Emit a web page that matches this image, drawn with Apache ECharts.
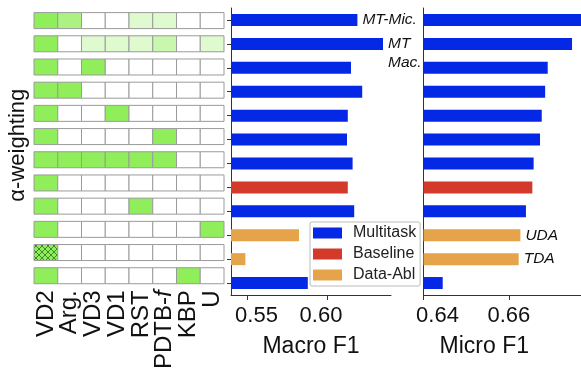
<!DOCTYPE html>
<html><head><meta charset="utf-8">
<script src="https://cdn.jsdelivr.net/npm/echarts@6/dist/echarts.min.js"></script>
<style>html,body{margin:0;padding:0;background:#fff}#c{width:581px;height:372px}</style>
</head><body><div id="c"></div>
<script>
// ---- data ----
const tasks = ['VD2', 'Arg.', 'VD3', 'VD1', 'RST', 'PDTB-f', 'KBP', 'U'];
const configs = ['r1','r2','r3','r4','r5','r6','r7','r8','r9','r10','r11','r12'];
const weights = [
  [1, 0.75, 0, 0, 0.3, 0.3, 0, 0],
  [1, 0, 0.3, 0.3, 0.3, 0.5, 0, 0.3],
  [1, 0, 1, 0, 0, 0, 0, 0],
  [1, 1, 0, 0, 0, 0, 0, 0],
  [1, 0, 0, 1, 0, 0, 0, 0],
  [1, 0, 0, 0, 0, 1, 0, 0],
  [1, 1, 1, 1, 1, 1, 0, 0],
  [1, 0, 0, 0, 0, 0, 0, 0],
  [1, 0, 0, 0, 1, 0, 0, 0],
  [1, 0, 0, 0, 0, 0, 0, 1],
  [1, 0, 0, 0, 0, 0, 0, 0],
  [1, 0, 0, 0, 0, 0, 1, 0]
];
const hatchedCells = [[10, 0]];
const groups = ['Multitask', 'Baseline', 'Data-Abl'];
const configGroup = ['Multitask','Multitask','Multitask','Multitask','Multitask','Multitask','Multitask','Baseline','Multitask','Data-Abl','Data-Abl','Multitask'];
const macroF1 = [0.619, 0.635, 0.615, 0.622, 0.613, 0.6125, 0.616, 0.613, 0.617, 0.5825, 0.549, 0.588];
const microF1 = [0.678, 0.6748, 0.6691, 0.6685, 0.6677, 0.6673, 0.6658, 0.6655, 0.664, 0.6627, 0.6623, 0.6445];
const macroNotes = ['MT-Mic.', 'MT\nMac.', '', '', '', '', '', '', '', '', '', ''];
const microNotes = ['', '', '', '', '', '', '', '', '', 'UDA', 'TDA', ''];
const macroTicks = [0.55, 0.60];
const microTicks = [0.64, 0.66];

// ---- styles ----
const FONT = "'Liberation Sans', Arial, sans-serif";
const groupColor = { 'Multitask': '#0527e6', 'Baseline': '#d33a2a', 'Data-Abl': '#e6a44a' };
const GREEN = [144, 238, 90];
function mix(w) {
  const c = GREEN.map(v => Math.round(255 - w * (255 - v)));
  return 'rgb(' + c.join(',') + ')';
}
function hatchCanvas() {
  const c = document.createElement('canvas'); c.width = 6; c.height = 6;
  const g = c.getContext('2d');
  g.fillStyle = mix(1); g.fillRect(0, 0, 6, 6);
  g.strokeStyle = '#3c8a2a'; g.lineWidth = 1;
  g.beginPath(); g.moveTo(0, 0); g.lineTo(6, 6); g.moveTo(6, 0); g.lineTo(0, 6); g.stroke();
  return c;
}
const hatchImg = hatchCanvas();

const cellData = [];
weights.forEach((row, r) => row.forEach((w, c) => {
  const h = hatchedCells.some(p => p[0] === r && p[1] === c) ? 1 : 0;
  cellData.push([c, r, w, h]);
}));

function barSeries(vals, notes, axis, g) {
  return {
    type: 'bar', name: g, xAxisIndex: axis, yAxisIndex: axis,
    barWidth: 12, barGap: '-100%',
    itemStyle: { color: groupColor[g] },
    data: vals.map((v, i) => {
      if (configGroup[i] !== g) return '-';
      const item = { value: v };
      if (notes[i]) {
        const two = notes[i].indexOf('\n') >= 0;
        item.label = {
          show: true, position: 'right', distance: 5, formatter: notes[i],
          fontStyle: 'italic', fontSize: 15.5, fontFamily: FONT, color: '#111',
          align: 'left', lineHeight: 18.5, offset: two ? [0, 9.5] : [0, 0]
        };
      }
      return item;
    })
  };
}

const series = [{
  type: 'custom', xAxisIndex: 0, yAxisIndex: 0, data: cellData, silent: true,
  renderItem: function (params, api) {
    const p = api.coord([api.value(0), api.value(1)]);
    const s = api.size([1, 1]);
    const w = api.value(2), h = api.value(3);
    return {
      type: 'rect',
      shape: { x: p[0] - s[0] / 2, y: p[1] - 8, width: s[0], height: 16 },
      style: { fill: h ? { image: hatchImg, repeat: 'repeat' } : mix(w), stroke: '#9a9a9a', lineWidth: 1 }
    };
  }
}];
groups.forEach(g => series.push(barSeries(macroF1, macroNotes, 1, g)));
groups.forEach(g => series.push(barSeries(microF1, microNotes, 2, g)));

// tick-label placement as in the reference (labels sit slightly off their ticks)
const tickRich = {
  r10: { fontSize: 22, color: '#111', fontFamily: FONT, padding: [0, 0, 0, 19] },
  l6: { fontSize: 22, color: '#111', fontFamily: FONT, padding: [0, 12, 0, 0] },
  r14: { fontSize: 22, color: '#111', fontFamily: FONT, padding: [0, 0, 0, 28] },
  c: { fontSize: 22, color: '#111', fontFamily: FONT }
};
const tickStyleKey = { '0.55': 'r10', '0.60': 'l6', '0.64': 'r14', '0.66': 'c' };
const tickFmt = v => { const t = v.toFixed(2); return '{' + (tickStyleKey[t] || 'c') + '|' + t + '}'; };

const AX = '#333';
const option = {
  animation: false,
  backgroundColor: '#fff',
  textStyle: { fontFamily: FONT },
  legend: {
    data: groups, orient: 'vertical', left: 310, top: 222,
    itemWidth: 29, itemHeight: 11, itemGap: 5, icon: 'rect',
    padding: [3, 4, 3, 3], borderColor: '#bbb', borderWidth: 1, borderRadius: 2,
    backgroundColor: '#fff',
    textStyle: { fontSize: 16, color: '#222', fontFamily: FONT, padding: [0, 0, 0, 6] }
  },
  grid: [
    { left: 34, top: 9, width: 190, height: 288 },
    { left: 231, top: 8, width: 160, height: 287 },
    { left: 423.5, top: 8, width: 157.5, height: 287 }
  ],
  xAxis: [
    {
      gridIndex: 0, type: 'category', data: tasks, position: 'bottom',
      axisLine: { show: false }, axisTick: { show: false }, splitLine: { show: false },
      axisLabel: {
        rotate: 90, margin: 3, fontSize: 24, color: '#111', fontFamily: FONT, interval: 0,
        formatter: v => v === 'PDTB-f' ? 'PDTB-{i|f}' : v,
        rich: { i: { fontStyle: 'italic', fontSize: 24, fontFamily: FONT, color: '#111' } }
      }
    },
    {
      gridIndex: 1, type: 'value', min: 0.54, max: 0.64,
      name: 'Macro F1', nameLocation: 'middle', nameGap: 40,
      nameTextStyle: { fontSize: 23, color: '#111', fontFamily: FONT },
      axisLine: { show: true, lineStyle: { color: AX } },
      axisTick: { show: true, length: 5, customValues: macroTicks, lineStyle: { color: AX } },
      axisLabel: { customValues: macroTicks, fontSize: 22, color: '#111', margin: 10, formatter: tickFmt, rich: tickRich },
      splitLine: { show: false }
    },
    {
      gridIndex: 2, type: 'value', min: 0.64, max: 0.6769,
      name: 'Micro F1', nameLocation: 'middle', nameGap: 40,
      nameTextStyle: { fontSize: 23, color: '#111', fontFamily: FONT, padding: [0, 36, 0, 0] },
      axisLine: { show: true, lineStyle: { color: AX } },
      axisTick: { show: true, length: 5, customValues: microTicks, lineStyle: { color: AX } },
      axisLabel: { customValues: microTicks, fontSize: 22, color: '#111', margin: 10, formatter: tickFmt, rich: tickRich },
      splitLine: { show: false }
    }
  ],
  yAxis: [
    {
      gridIndex: 0, type: 'category', data: configs, inverse: true,
      name: 'α-weighting', nameLocation: 'middle', nameRotate: 90, nameGap: 5,
      nameTextStyle: { fontSize: 22, color: '#111', fontFamily: FONT, padding: [0, 0, 0, 6] },
      axisLine: { show: false }, axisTick: { show: false }, axisLabel: { show: false }, splitLine: { show: false }
    },
    {
      gridIndex: 1, type: 'category', data: configs, inverse: true,
      axisLine: { show: true, onZero: false, lineStyle: { color: AX } },
      axisTick: { show: true, length: 4, alignWithLabel: true, lineStyle: { color: AX } },
      axisLabel: { show: false }, splitLine: { show: false }
    },
    {
      gridIndex: 2, type: 'category', data: configs, inverse: true,
      axisLine: { show: true, onZero: false, lineStyle: { color: AX } },
      axisTick: { show: false }, axisLabel: { show: false }, splitLine: { show: false }
    }
  ],
  series: series
};
const chart = echarts.init(document.getElementById('c'), null, { renderer: 'canvas' });
chart.setOption(option);
</script></body></html>
